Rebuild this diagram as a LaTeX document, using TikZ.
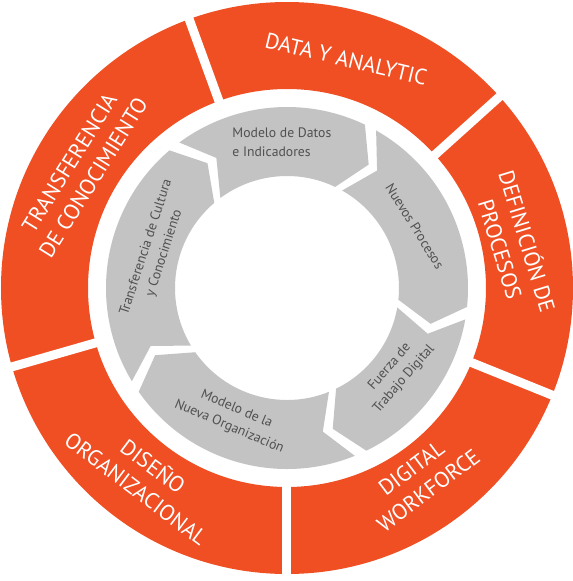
\documentclass[tikz,border=0pt]{standalone}
\usepackage{fontspec}
\setmainfont{PT Sans}
\usepackage{tikz}
\definecolor{ringred}{RGB}{240,78,35}
\definecolor{ringgrey}{RGB}{195,195,195}
\definecolor{greytext}{RGB}{80,80,80}

\begin{document}
\begin{tikzpicture}[x=1cm,y=1cm,
   redlbl/.style={white,align=center,font=\fontsize{12.5}{16}\selectfont},
   greylbl/.style={greytext,align=center,font=\fontsize{7.8}{10.8}\selectfont},
   gap/.style={white,line width=1.8mm}]
  \fill[white] (-5.74,-5.86) rectangle (5.72,5.76);
  \useasboundingbox (-5.74,-5.86) rectangle (5.72,5.76);
  % outer ring and its cuts
  \fill[ringred,even odd rule] (0,0) circle (5.72) (0,0) circle (3.98);
  \draw[gap] (110:3.9) -- (110:5.8);
  \draw[gap] (42:3.9)  -- (42:5.8);
  \draw[gap] (-22:3.9) -- (-22:5.8);
  \draw[gap] (-90:3.9) -- (-90:5.8);
  \draw[gap] (196:3.9) -- (196:5.8);
  % inner ring of arrows, clockwise
  \foreach \a/\e in {213/128.5,128.5/62.5,62.5/-8,-8/-66,-66/-147}
    \fill[ringgrey] ({\a-2}:3.62) arc[start angle=\a-2,end angle=\e+2,radius=3.62]
      -- ({\e-6}:2.96) -- ({\e+2}:2.24)
      arc[start angle=\e+2,end angle=\a-2,radius=2.24]
      -- ({\a-10}:2.96) -- cycle;
  % outer labels
  \node[redlbl,rotate=-13.5] (data)    at (75.5:4.73)   {DATA Y ANALYTIC};
  \node[redlbl,rotate=58]    (transf)  at (150.2:4.74)  {TRANSFERENCIA\\DE CONOCIMIENTO};
  \node[redlbl,rotate=-73]   (defin)   at (10.7:4.64)   {DEFINICIÓN DE\\PROCESOS};
  \node[redlbl,rotate=37]    (digital) at (-55.2:4.66)  {DIGITAL\\WORKFORCE};
  \node[redlbl,rotate=-37]   (diseno)  at (-126.9:4.72) {DISEÑO\\ORGANIZACIONAL};
  % inner labels
  \node[greylbl,align=left]  (datos)   at (92:2.92)     {Modelo de Datos\\e Indicadores};
  \node[greylbl,rotate=-58]  (nuevos)  at (25.8:2.84)   {Nuevos Procesos};
  \node[greylbl,rotate=49]   (fuerza)  at (-37.7:2.78)  {Fuerza de\\Trabajo Digital};
  \node[greylbl,rotate=-23]  (nuevaorg) at (-112.6:2.82) {Modelo de la\\Nueva Organización};
  \node[greylbl,rotate=72]   (cultura) at (164:2.74)    {Transferencia de Cultura\\y Conocimiento};
\end{tikzpicture}
\end{document}
